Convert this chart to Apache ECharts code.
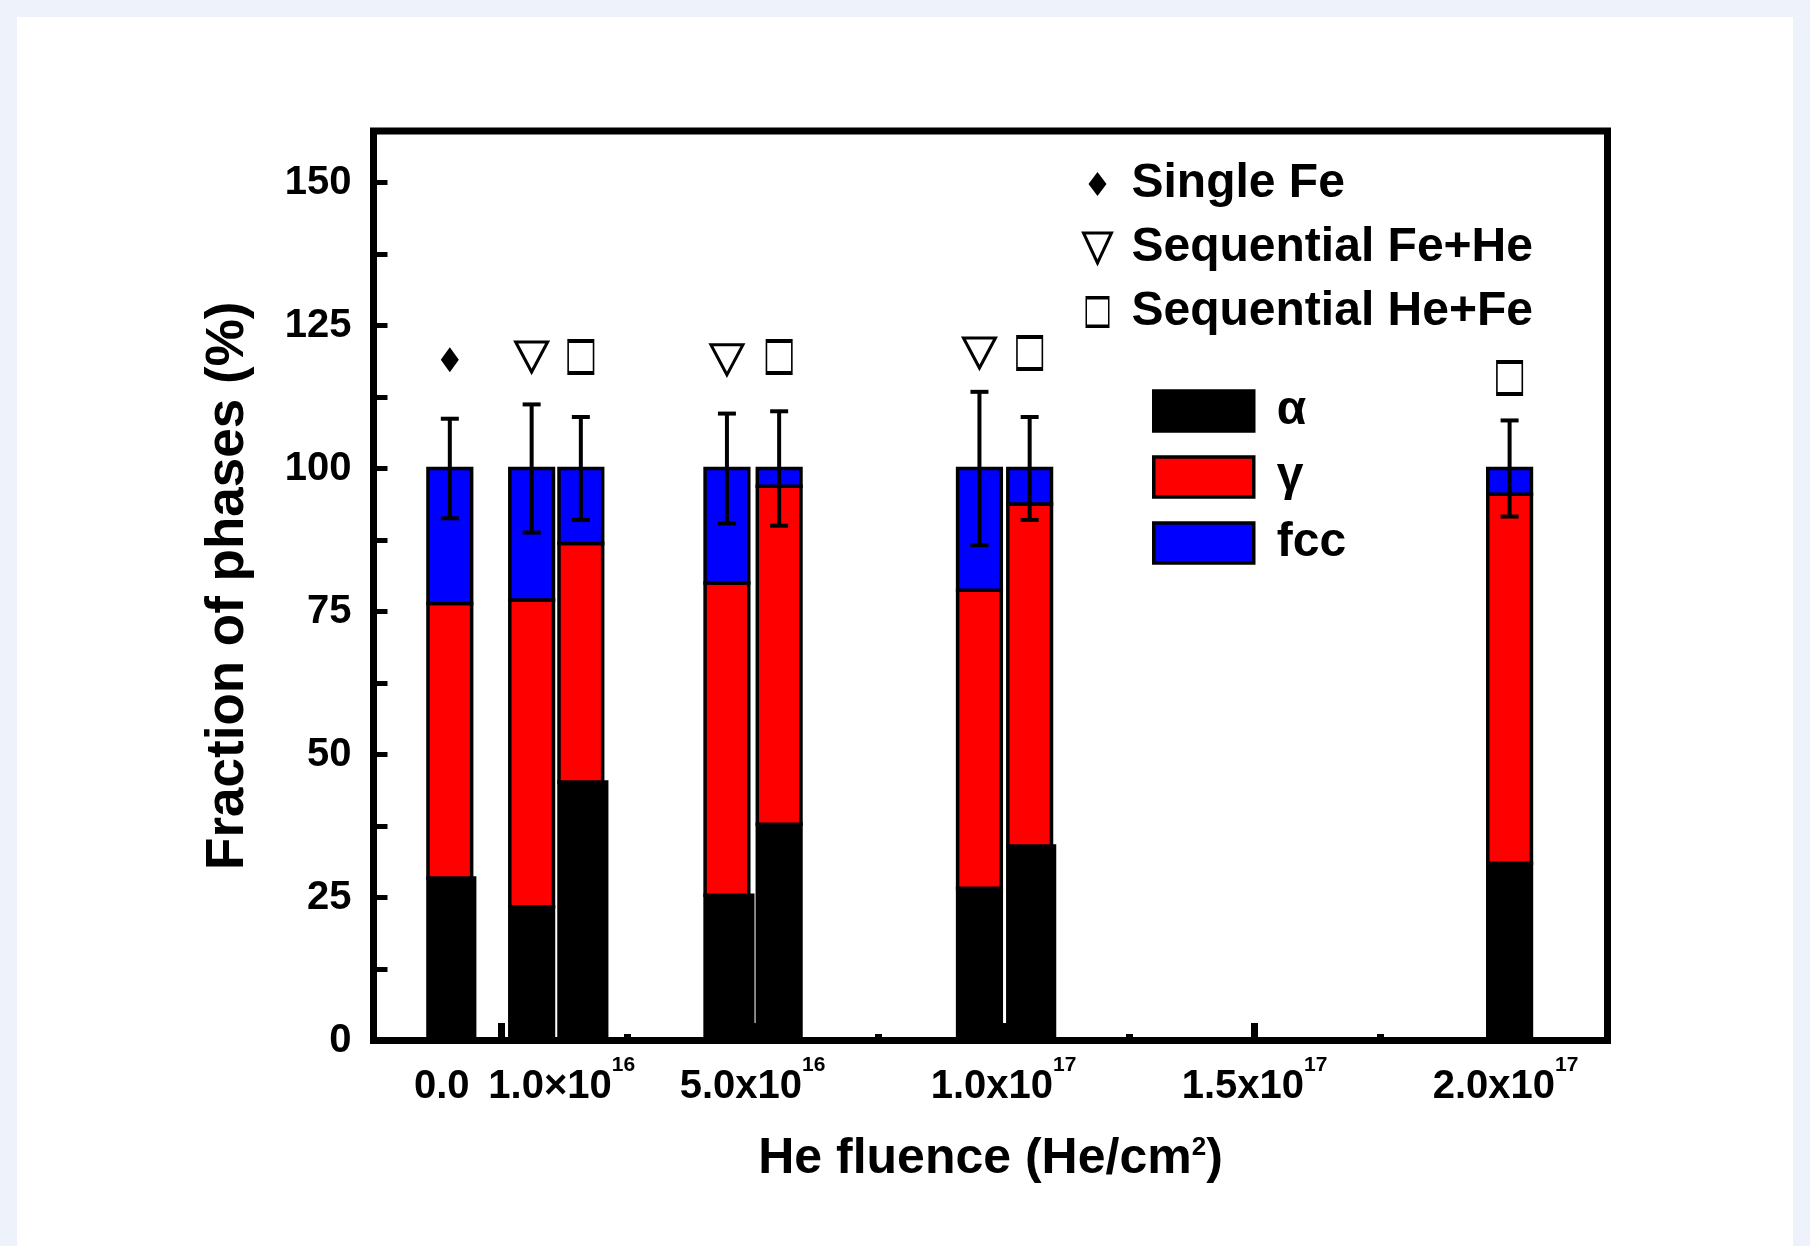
<!DOCTYPE html>
<html><head><meta charset="utf-8">
<script src="https://cdn.jsdelivr.net/npm/echarts@6/dist/echarts.min.js"></script>
<style>
html,body{margin:0;padding:0;background:#eef2fa;width:1810px;height:1246px;overflow:hidden}
#panel{position:absolute;left:17px;top:17px;width:1776px;height:1229px;background:#fff}
#chart{position:absolute;left:0;top:0;width:1810px;height:1246px}
</style></head><body>
<div id="panel"></div><div id="chart"></div>
<script>
// ---- data (x in units of 1e16 He/cm^2, as plotted) ----
const barX   = [-1.03, 0.60, 1.58, 4.49, 5.53, 9.52, 10.52, 20.08];
const sample = ['Single Fe','Sequential Fe+He','Sequential He+Fe','Sequential Fe+He','Sequential He+Fe','Sequential Fe+He','Sequential He+Fe','Sequential He+Fe'];
const alphaPct = [28.4, 23.4, 45.2, 25.4, 37.8, 26.6, 34.0, 31.0];
const gammaPct = [48.0, 53.6, 41.7, 54.6, 59.1, 52.1, 59.8, 64.5];
const fccPct   = [23.6, 23.0, 13.1, 20.0,  3.1, 21.3,  6.2,  4.5];
const errPct   = [8.7, 11.2, 9.0, 9.6, 10.0, 13.4, 9.0, 8.4];
const markerY  = [119.0, 119.5, 119.5, 119.0, 119.5, 120.2, 120.2, 115.8];
const xLabelPos  = [-1.19, 1.2, 5, 10, 15, 20];
const xLabelMain = ['0.0', '1.0×10', '5.0x10', '1.0x10', '1.5x10', '2.0x10'];
const xLabelExp  = ['', '16', '16', '17', '17', '17'];
const xMajorTicks = [0, 5, 10, 15, 20];
const xMinorTicks = [2.5, 7.5, 12.5, 17.5];
const yLabels = [0, 25, 50, 75, 100, 125, 150];
const yTicks  = [0, 12.5, 25, 37.5, 50, 62.5, 75, 87.5, 100, 112.5, 125, 137.5, 150];
const sampleNames = ['Single Fe', 'Sequential Fe+He', 'Sequential He+Fe'];
const phaseNames = ['α', 'γ', 'fcc'];

// ---- styling ----
const FONT = '"Liberation Sans", Arial, sans-serif';
const BAR_W = 0.87;
const alphaRightBleed = [3, 0, 4, 4, 0, 0, 3, 0]; // px: rendering quirk of the black segments
const phaseColors = ['#000000', '#ff0000', '#0000ff'];
const SYM = {
  'Single Fe':        {path:'path://M5,0L10,7L5,14L0,7Z', size:[18,25], fill:'#000', bw:0,
                       legend:'path://M0,0M32,32M16,4L25,16L16,28L7,16Z'},
  'Sequential Fe+He': {path:'path://M0,0L10,0L5,10Z', size:[32,30], fill:'#fff', bw:3,
                       legend:'path://M0,0M32,32M2,1L30,1L16,31Z'},
  'Sequential He+Fe': {path:'path://M0,0L27,0L27,36L0,36ZM1.6,4L1.6,32L25.4,32L25.4,4Z', size:[27,36], fill:'#000', bw:0,
                       legend:'path://M0,0M32,32M4,0L28,0L28,32L4,32ZM5.5,3.5L5.5,28.5L26.5,28.5L26.5,3.5Z'}
};

const bases = [alphaPct.map(()=>0), alphaPct.slice(), alphaPct.map((a,i)=>a+gammaPct[i])];
const phaseVals = [alphaPct, gammaPct, fccPct];

function phaseSeries(k) {
  return {
    type:'custom', name:phaseNames[k], z:2, coordinateSystem:'cartesian2d',
    itemStyle:{color:phaseColors[k], borderColor:'#000', borderWidth:3.5},
    data: barX.map((x,i)=>[x, bases[k][i], phaseVals[k][i]]),
    encode:{x:0, y:[1,2]},
    renderItem(params, api) {
      const i = params.dataIndex;
      const x = api.value(0), b = api.value(1), v = api.value(2);
      const p0 = api.coord([x, b]), p1 = api.coord([x, b+v]);
      const w = api.size([BAR_W, 0])[0];
      const extra = k === 0 ? alphaRightBleed[i] : 0;
      return {type:'rect', shape:{x:p0[0]-w/2, y:p1[1], width:w+extra, height:p0[1]-p1[1]},
              style:{fill:phaseColors[k], stroke:'#000', lineWidth:3.5}};
    }
  };
}

const errSeries = {
  type:'custom', name:'err', z:5, coordinateSystem:'cartesian2d',
  data: barX.map((x,i)=>{const t = alphaPct[i]+gammaPct[i]+fccPct[i]; return [x, t-errPct[i], t+errPct[i]];}),
  encode:{x:0, y:[1,2]},
  renderItem(params, api) {
    const x = api.value(0);
    const lo = api.coord([x, api.value(1)]), hi = api.coord([x, api.value(2)]);
    const c = 9, st = {stroke:'#000', lineWidth:4};
    return {type:'group', children:[
      {type:'line', shape:{x1:lo[0], y1:lo[1], x2:hi[0], y2:hi[1]}, style:st},
      {type:'line', shape:{x1:hi[0]-c, y1:hi[1], x2:hi[0]+c, y2:hi[1]}, style:st},
      {type:'line', shape:{x1:lo[0]-c, y1:lo[1], x2:lo[0]+c, y2:lo[1]}, style:st}
    ]};
  }
};

const markerSeries = sampleNames.map(n => ({
  type:'scatter', name:n, z:6, symbol:SYM[n].path, symbolSize:SYM[n].size,
  itemStyle:{color:SYM[n].fill, borderColor:'#000', borderWidth:SYM[n].bw, opacity:1},
  data: barX.map((x,i)=> sample[i]===n ? [x, markerY[i]] : null).filter(d=>d)
}));

const txt = {fontFamily:FONT, fontWeight:'bold', color:'#000'};

const option = {
  animation:false,
  backgroundColor:'transparent',
  grid:{left:373.5, top:131, width:1234, height:909.5, show:true, borderColor:'#000', borderWidth:7, backgroundColor:'#fff'},
  xAxis:[{
    type:'value', min:-2.55, max:22.03, position:'bottom',
    splitLine:{show:false}, axisLine:{show:false, onZero:false},
    axisTick:{show:true, inside:true, length:17.5, customValues:xMajorTicks, lineStyle:{color:'#000', width:7}},
    axisLabel:{customValues:xLabelPos, margin:14,
      formatter:(v)=>{let i=0,d=1e9; xLabelPos.forEach((p,j)=>{if(Math.abs(p-v)<d){d=Math.abs(p-v);i=j;}});
        return xLabelExp[i] ? `{m|${xLabelMain[i]}}{s|${xLabelExp[i]}}` : `{m|${xLabelMain[i]}}`;},
      rich:{m:Object.assign({fontSize:40, lineHeight:52, verticalAlign:'bottom'}, txt),
            s:Object.assign({fontSize:21, verticalAlign:'top'}, txt)}},
    name:'{b|He fluence (He/cm}{s|2}{b|)}', nameLocation:'middle', nameGap:94,
    nameTextStyle:{rich:{b:Object.assign({fontSize:50, lineHeight:50, verticalAlign:'bottom'}, txt),
                         s:Object.assign({fontSize:26, verticalAlign:'top'}, txt)}}
  },{
    type:'value', min:-2.55, max:22.03, position:'bottom',
    splitLine:{show:false}, axisLine:{show:false, onZero:false}, axisLabel:{show:false},
    axisTick:{show:true, inside:true, length:6.5, customValues:xMinorTicks, lineStyle:{color:'#000', width:7}}
  }],
  yAxis:{
    type:'value', min:0, max:159, position:'left',
    splitLine:{show:false}, axisLine:{show:false, onZero:false},
    axisTick:{show:true, inside:true, length:14, customValues:yTicks, lineStyle:{color:'#000', width:5}},
    axisLabel:Object.assign({customValues:yLabels, margin:22, fontSize:40}, txt),
    name:'Fraction of phases (%)', nameLocation:'middle', nameRotate:90, nameGap:119,
    nameTextStyle:Object.assign({fontSize:53, lineHeight:53}, txt)
  },
  legend:[{
    orient:'vertical', left:1080, top:160, padding:0, itemWidth:58, itemHeight:32, itemGap:16,
    selectedMode:false, textStyle:Object.assign({fontSize:48, lineHeight:40}, txt),
    data: sampleNames.map(n=>({name:n, icon:SYM[n].legend,
      itemStyle:{color:SYM[n].fill, borderColor:'#000', borderWidth:SYM[n].bw}}))
  },{
    orient:'vertical', left:1152, top:387, padding:0, itemWidth:100, itemHeight:40, itemGap:18,
    selectedMode:false, textStyle:Object.assign({fontSize:48, lineHeight:40, padding:[0,0,0,18]}, txt),
    data: phaseNames.map((n,k)=>({name:n, icon:'rect',
      itemStyle:{color:phaseColors[k], borderColor:'#000', borderWidth:3.5}}))
  }],
  series:[phaseSeries(0), phaseSeries(1), phaseSeries(2), errSeries].concat(markerSeries)
};

const chart = echarts.init(document.getElementById('chart'), null, {renderer:'canvas'});
chart.setOption(option);
</script>
</body></html>
